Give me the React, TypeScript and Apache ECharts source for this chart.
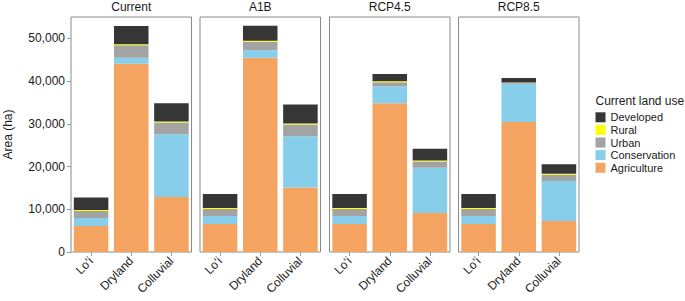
import React, { useEffect, useRef } from "react";
import * as echarts from "echarts";

const categories = ["Loʻi", "Dryland", "Colluvial"];
const scenarios = ["Current", "A1B", "RCP4.5", "RCP8.5"];
const legendOrder = ["Developed", "Rural", "Urban", "Conservation", "Agriculture"];
const yTickValues = [0, 10000, 20000, 30000, 40000, 50000];

// rows = scenarios (Current, A1B, RCP4.5, RCP8.5); columns = categories
const agriculture = [
  [6070, 44080, 12850],
  [6540, 45480, 15100],
  [6540, 34810, 9110],
  [6540, 30440, 7240],
];
const conservation = [
  [1870, 1410, 14720],
  [1870, 1710, 12000],
  [1870, 3980, 10590],
  [1870, 8960, 9350],
];
const urban = [
  [1660, 2880, 2730],
  [1640, 2030, 2730],
  [1640, 930, 1490],
  [1640, 200, 1470],
];
const rural = [
  [230, 230, 230],
  [230, 230, 230],
  [230, 230, 230],
  [230, 60, 230],
];
const developed = [
  [2950, 4280, 4280],
  [3270, 3510, 4440],
  [3270, 1710, 2720],
  [3270, 1070, 2270],
];

const stackOrder: { name: string; data: number[][]; color: string }[] = [
  { name: "Agriculture", data: agriculture, color: "#F4A460" },
  { name: "Conservation", data: conservation, color: "#87CEEB" },
  { name: "Urban", data: urban, color: "#A3A3A3" },
  { name: "Rural", data: rural, color: "#FFFF00" },
  { name: "Developed", data: developed, color: "#363636" },
];

export default function App() {
  const ref = useRef<HTMLDivElement>(null);
  useEffect(() => {
    const chart = echarts.init(ref.current!, null, { renderer: "svg" });
    const font = "'Liberation Sans', Arial, Helvetica, sans-serif";
    const textColor = "#1a1a1a";
    const panelLeft = [71, 200, 329.5, 458.5];
    const panelW = 120.5;
    const panelTop = 17;
    const panelH = 235;

    const grids = panelLeft.map((l) => ({
      left: l,
      top: panelTop,
      width: panelW,
      height: panelH,
      show: true,
      borderColor: "#8a8a8a",
      borderWidth: 1,
      backgroundColor: "transparent",
    }));

    const xAxes = scenarios.map((_, i) => ({
      type: "category",
      gridIndex: i,
      data: categories,
      axisLine: { show: false },
      axisTick: {
        show: true,
        alignWithLabel: true,
        length: 4,
        lineStyle: { color: "#9a9a9a", width: 1 },
      },
      axisLabel: {
        rotate: 45,
        fontSize: 12,
        color: textColor,
        fontFamily: font,
        margin: 7,
        interval: 0,
      },
    }));

    const yAxes = scenarios.map((_, i) => ({
      type: "value",
      gridIndex: i,
      min: 0,
      max: 55000,
      interval: 10000,
      splitLine: { show: false },
      axisLine: { show: false },
      axisTick: {
        show: i === 0,
        length: 4,
        lineStyle: { color: "#9a9a9a", width: 1 },
      },
      axisLabel: {
        show: i === 0,
        fontSize: 12,
        color: textColor,
        fontFamily: font,
        margin: 6,
        showMaxLabel: false,
        formatter: (v: number) =>
          yTickValues.includes(v) ? v.toLocaleString("en-US") : "",
      },
    }));

    const series: any[] = [];
    scenarios.forEach((sc, i) => {
      stackOrder.forEach((s) => {
        series.push({
          type: "bar",
          name: s.name,
          stack: sc,
          xAxisIndex: i,
          yAxisIndex: i,
          barCategoryGap: "14%",
          data: s.data[i],
          itemStyle: { color: s.color, borderWidth: 0 },
        });
      });
    });

    const graphics: any[] = scenarios.map((sc, i) => ({
      type: "text",
      x: panelLeft[i] + panelW / 2,
      y: 7,
      style: {
        text: sc,
        fontSize: 12,
        fontFamily: font,
        fill: textColor,
        align: "center",
        verticalAlign: "middle",
      },
    }));
    graphics.push({
      type: "text",
      x: 8,
      y: panelTop + panelH / 2,
      rotation: Math.PI / 2,
      style: {
        text: "Area (ha)",
        fontSize: 12,
        fontFamily: font,
        fill: textColor,
        align: "center",
        verticalAlign: "middle",
      },
    });
    graphics.push({
      type: "text",
      x: 595.5,
      y: 101,
      style: {
        text: "Current land use",
        fontSize: 12,
        fontFamily: font,
        fill: textColor,
        align: "left",
        verticalAlign: "middle",
      },
    });

    chart.setOption({
      animation: false,
      backgroundColor: "#ffffff",
      grid: grids,
      xAxis: xAxes,
      yAxis: yAxes,
      series,
      legend: {
        data: legendOrder,
        orient: "vertical",
        left: 595.5,
        top: 111,
        icon: "rect",
        itemWidth: 10,
        itemHeight: 10,
        itemGap: 0,
        selectedMode: false,
        padding: 0,
        itemStyle: { borderWidth: 0 },
        textStyle: {
          fontSize: 11,
          fontFamily: font,
          color: textColor,
          lineHeight: 12.6,
        },
      },
      graphic: graphics,
    });
    return () => chart.dispose();
  }, []);
  return (
    <div
      ref={ref}
      style={{ position: "fixed", left: 0, top: 0, width: 685, height: 301 }}
    />
  );
}
